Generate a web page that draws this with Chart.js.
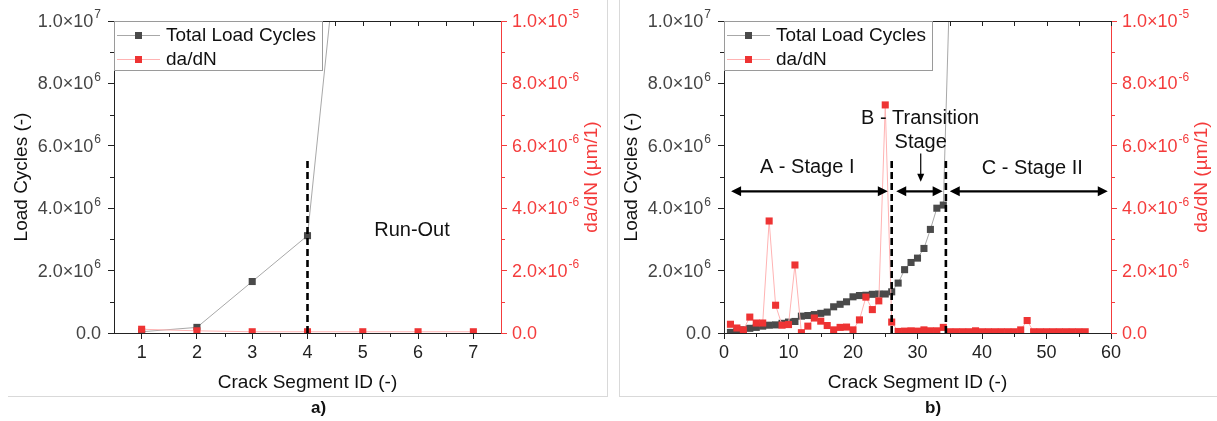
<!DOCTYPE html>
<html>
<head>
<meta charset="utf-8">
<script src="https://cdn.jsdelivr.net/npm/chart.js@4.4.1/dist/chart.umd.min.js"></script>
<style>
  body { margin: 0; background: #fff; width: 1217px; height: 421px; position: relative; overflow: hidden;
         font-family: "Liberation Sans", Arial, sans-serif; }
  .panel { position: absolute; top: 0; width: 607px; height: 400px; }
  #pa { left: 0; }
  #pb { left: 610px; }
  .vl { position: absolute; top: 0; width: 1px; height: 396px; background: #d9d9d9; }
  .hl { position: absolute; top: 396px; height: 1px; background: #d9d9d9; }
  .cap { position: absolute; top: 398px; font-weight: bold; font-size: 17px; color: #111; }
</style>
</head>
<body>
<div class="panel" id="pa"><canvas id="ca" width="607" height="400"></canvas></div>
<div class="panel" id="pb"><canvas id="cb" width="607" height="400"></canvas></div>
<div class="vl" style="left:607px"></div>
<div class="hl" style="left:8px;width:600px"></div>
<div class="vl" style="left:619px"></div>
<div class="hl" style="left:619px;width:598px"></div>
<div class="cap" style="left:311px">a)</div>
<div class="cap" style="left:925px">b)</div>

<script>
// ---- data: panel a) ----
const cyclesA = [0.04e6, 0.18e6, 1.65e6, 3.12e6, 2.03e7];
const dadnA = [0.12e-6, 0.07e-6, 0.04e-6, 0.04e-6, 0.04e-6, 0.04e-6, 0.04e-6];

// ---- data: panel b) ----
const cyclesB = [
  0.02e6, 0.06e6, 0.10e6, 0.15e6, 0.18e6, 0.22e6, 0.25e6, 0.26e6, 0.31e6, 0.35e6,
  0.37e6, 0.54e6, 0.56e6, 0.59e6, 0.63e6, 0.67e6, 0.84e6, 0.92e6, 1.00e6, 1.16e6,
  1.20e6, 1.21e6, 1.24e6, 1.25e6, 1.25e6, 1.32e6, 1.60e6, 2.03e6, 2.26e6, 2.40e6,
  2.71e6, 3.32e6, 4.00e6, 4.10e6, 1.12e7
];
const dadnB = [
  0.28, 0.16, 0.10, 0.51, 0.32, 0.32, 3.59, 0.89, 0.25, 0.27,
  2.18, 0.01, 0.22, 0.48, 0.38, 0.24, 0.10, 0.18, 0.19, 0.10,
  0.42, 1.15, 0.75, 1.03, 7.31, 0.35, 0.05, 0.06, 0.07, 0.06,
  0.10, 0.07, 0.07, 0.18, 0.04, 0.04, 0.04, 0.04, 0.07, 0.04,
  0.04, 0.04, 0.04, 0.04, 0.04, 0.10, 0.40, 0.04, 0.04, 0.04,
  0.04, 0.04, 0.04, 0.04, 0.04, 0.04
].map(v => v * 1e-6);

// ---- ticks and labels ----
const xMajorA = [1, 2, 3, 4, 5, 6, 7];
const xMinorA = [1.5, 2.5, 3.5, 4.5, 5.5, 6.5];
const xMajorB = [0, 10, 20, 30, 40, 50, 60];
const xMinorB = [5, 15, 25, 35, 45, 55];
const loadTicks = [0, 2e6, 4e6, 6e6, 8e6, 1e7];
const loadMant = ['0.0', '2.0×10', '4.0×10', '6.0×10', '8.0×10', '1.0×10'];
const loadExp = ['', '6', '6', '6', '6', '7'];
const loadMinor = [1e6, 3e6, 5e6, 7e6, 9e6];
const rateTicks = [0, 2e-6, 4e-6, 6e-6, 8e-6, 1e-5];
const rateMant = ['0.0', '2.0×10', '4.0×10', '6.0×10', '8.0×10', '1.0×10'];
const rateExp = ['', '-6', '-6', '-6', '-6', '-5'];
const rateMinor = [1e-6, 3e-6, 5e-6, 7e-6, 9e-6];

const FONT = '"Liberation Sans", Arial, sans-serif';
const RED = '#f43c3c';
const GRAY = '#4a4a4a';

function pts(vals) {
  return vals.map((v, i) => ({ x: i + 1, y: v }));
}

// "2.0×10" with raised exponent
function sciLabel(ctx, mant, exp, x, y, alignRight) {
  ctx.textBaseline = 'middle';
  ctx.textAlign = 'left';
  ctx.font = '18px ' + FONT;
  const mw = ctx.measureText(mant).width;
  ctx.font = '12px ' + FONT;
  const ew = exp ? ctx.measureText(exp).width + 1 : 0;
  const x0 = alignRight ? x - mw - ew : x;
  ctx.font = '18px ' + FONT;
  ctx.fillText(mant, x0, y + 1);
  if (exp) {
    ctx.font = '12px ' + FONT;
    ctx.fillText(exp, x0 + mw + 1, y - 6);
  }
}

// extra drawing: top frame, minor ticks, y labels, annotations, legend
const decor = {
  id: 'decor',
  afterDraw(chart, args, o) {
    const ctx = chart.ctx;
    const ca = chart.chartArea;
    const sx = chart.scales.x, sy = chart.scales.y, sr = chart.scales.y1;
    ctx.save();
    // top frame with inward ticks
    ctx.strokeStyle = '#222';
    ctx.lineWidth = 1;
    ctx.beginPath();
    ctx.moveTo(ca.left, ca.top + 0.5);
    ctx.lineTo(ca.right, ca.top + 0.5);
    o.xMajor.concat(o.xMinor).forEach(v => {
      const px = Math.round(sx.getPixelForValue(v)) + 0.5;
      ctx.moveTo(px, ca.top);
      ctx.lineTo(px, ca.top + 5);
    });
    // minor ticks outside
    o.xMinor.forEach(v => {
      const px = Math.round(sx.getPixelForValue(v)) + 0.5;
      ctx.moveTo(px, ca.bottom);
      ctx.lineTo(px, ca.bottom + 4);
    });
    loadMinor.forEach(v => {
      const py = Math.round(sy.getPixelForValue(v)) + 0.5;
      ctx.moveTo(ca.left, py);
      ctx.lineTo(ca.left - 4, py);
    });
    ctx.stroke();
    ctx.strokeStyle = RED;
    ctx.beginPath();
    rateMinor.forEach(v => {
      const py = Math.round(sr.getPixelForValue(v)) + 0.5;
      ctx.moveTo(ca.right, py);
      ctx.lineTo(ca.right + 4, py);
    });
    ctx.stroke();

    // y tick labels
    ctx.fillStyle = '#444';
    loadTicks.forEach((v, i) => sciLabel(ctx, loadMant[i], loadExp[i], ca.left - 13, sy.getPixelForValue(v), true));
    ctx.fillStyle = RED;
    rateTicks.forEach((v, i) => sciLabel(ctx, rateMant[i], rateExp[i], ca.right + 11, sr.getPixelForValue(v), false));

    // right axis title, reading upward
    ctx.save();
    ctx.translate(ca.right + 91, (ca.top + ca.bottom) / 2);
    ctx.rotate(-Math.PI / 2);
    ctx.font = '19px ' + FONT;
    ctx.textAlign = 'center';
    ctx.textBaseline = 'middle';
    ctx.fillStyle = RED;
    ctx.fillText('da/dN (µm/1)', 0, 0);
    ctx.restore();

    // dashed separators
    ctx.strokeStyle = '#000';
    ctx.lineWidth = 2.6;
    ctx.setLineDash([7, 4]);
    o.dashes.forEach(d => {
      const px = sx.getPixelForValue(d.x);
      ctx.beginPath();
      ctx.moveTo(px, sy.getPixelForValue(0));
      ctx.lineTo(px, sy.getPixelForValue(d.top));
      ctx.stroke();
    });
    ctx.setLineDash([]);

    // double arrows
    ctx.fillStyle = '#000';
    o.arrows.forEach(a => {
      const x1 = sx.getPixelForValue(a.from), x2 = sx.getPixelForValue(a.to);
      const py = sy.getPixelForValue(a.y);
      ctx.lineWidth = 2.4;
      ctx.beginPath();
      ctx.moveTo(x1 + 6, py);
      ctx.lineTo(x2 - 6, py);
      ctx.stroke();
      ctx.beginPath();
      ctx.moveTo(x1, py); ctx.lineTo(x1 + 10, py - 5); ctx.lineTo(x1 + 10, py + 5); ctx.closePath();
      ctx.moveTo(x2, py); ctx.lineTo(x2 - 10, py - 5); ctx.lineTo(x2 - 10, py + 5); ctx.closePath();
      ctx.fill();
    });
    // small pointer arrows
    (o.pointers || []).forEach(p => {
      const px = sx.getPixelForValue(p.x);
      const y1 = sy.getPixelForValue(p.from), y2 = sy.getPixelForValue(p.to);
      ctx.lineWidth = 1.2;
      ctx.beginPath();
      ctx.moveTo(px, y1);
      ctx.lineTo(px, y2 - 5);
      ctx.stroke();
      ctx.beginPath();
      ctx.moveTo(px, y2); ctx.lineTo(px - 3.5, y2 - 8); ctx.lineTo(px + 3.5, y2 - 8); ctx.closePath();
      ctx.fill();
    });

    // text notes
    ctx.font = '20px ' + FONT;
    ctx.fillStyle = '#111';
    ctx.textAlign = 'center';
    ctx.textBaseline = 'middle';
    o.notes.forEach(n => {
      ctx.fillText(n.text, sx.getPixelForValue(n.x), sy.getPixelForValue(n.y));
    });

    // legend box
    const lx = ca.left + 0.5, ly = ca.top + 0.5;
    ctx.fillStyle = '#fff';
    ctx.fillRect(lx, ly, 208, 49);
    ctx.strokeStyle = '#9a9a9a';
    ctx.lineWidth = 1;
    ctx.strokeRect(lx, ly, 208, 49);
    ctx.textAlign = 'left';
    ctx.font = '19px ' + FONT;
    chart.data.datasets.forEach((ds, i) => {
      const ry = ca.top + 14 + i * 24;
      ctx.strokeStyle = ds.borderColor;
      ctx.lineWidth = 1;
      ctx.beginPath();
      ctx.moveTo(ca.left + 3, ry + 0.5);
      ctx.lineTo(ca.left + 46, ry + 0.5);
      ctx.stroke();
      ctx.fillStyle = ds.pointBackgroundColor;
      ctx.fillRect(ca.left + 21, ry - 3, 7, 7);
      ctx.fillStyle = '#111';
      ctx.fillText(ds.label, ca.left + 52, ry + 1);
    });
    ctx.restore();
  }
};

function makeChart(id, cfg) {
  const tickFont = { family: FONT, size: 18 };
  const titleFont = { family: FONT, size: 19 };
  return new Chart(document.getElementById(id), {
    type: 'line',
    data: {
      datasets: [
        {
          label: 'Total Load Cycles', data: cfg.cycles, yAxisID: 'y', order: 1,
          borderColor: '#a8a8a8', borderWidth: 1, pointBackgroundColor: GRAY, pointBorderWidth: 0,
          pointStyle: 'rect', pointRadius: 5
        },
        {
          label: 'da/dN', data: cfg.dadn, yAxisID: 'y1', order: 0,
          borderColor: '#ffb3b3', borderWidth: 1, pointBackgroundColor: '#ee3333', pointBorderWidth: 0,
          pointStyle: 'rect', pointRadius: 5
        }
      ]
    },
    options: {
      responsive: false,
      animation: false,
      events: [],
      layout: { padding: { top: 21, left: 0, right: 0, bottom: 0 } },
      plugins: {
        legend: { display: false },
        tooltip: { enabled: false },
        decor: cfg.decor
      },
      scales: {
        x: {
          type: 'linear', min: cfg.xMin, max: cfg.xMax,
          afterBuildTicks: s => { s.ticks = cfg.xMajor.map(v => ({ value: v })); },
          afterFit: s => { s.height = 67; },
          ticks: { font: tickFont, color: '#222', padding: 3, maxRotation: 0, autoSkip: false,
                   callback: v => String(v) },
          grid: { drawOnChartArea: false, tickLength: 6, tickColor: '#222' },
          border: { color: '#222', width: 1 },
          title: { display: true, text: 'Crack Segment ID (-)', font: titleFont, color: '#111',
                   padding: { top: 0, bottom: 6 } }
        },
        y: {
          position: 'left', min: 0, max: 1e7,
          afterBuildTicks: s => { s.ticks = loadTicks.map(v => ({ value: v })); },
          afterFit: s => { s.width = 114; },
          ticks: { display: false },
          grid: { drawOnChartArea: false, tickLength: 6, tickColor: '#222' },
          border: { color: '#222', width: 1 },
          title: { display: true, text: 'Load Cycles (-)', font: titleFont, color: '#111',
                   padding: { top: 10, bottom: 0 } }
        },
        y1: {
          position: 'right', min: 0, max: 1e-5,
          afterBuildTicks: s => { s.ticks = rateTicks.map(v => ({ value: v })); },
          afterFit: s => { s.width = 106; },
          ticks: { display: false },
          grid: { drawOnChartArea: false, tickLength: 6, tickColor: RED },
          border: { color: RED, width: 1 }
        }
      }
    },
    plugins: [decor]
  });
}

makeChart('ca', {
  cycles: pts(cyclesA), dadn: pts(dadnA),
  xMin: 0.5, xMax: 7.5, xMajor: xMajorA,
  decor: {
    xMajor: xMajorA, xMinor: xMinorA,
    dashes: [{ x: 4, top: 5.6e6 }],
    arrows: [],
    notes: [{ text: 'Run-Out', x: 5.89, y: 3.3e6 }]
  }
});

makeChart('cb', {
  cycles: pts(cyclesB), dadn: pts(dadnB),
  xMin: 0, xMax: 60, xMajor: xMajorB,
  decor: {
    xMajor: xMajorB, xMinor: xMinorB,
    dashes: [{ x: 26, top: 5.56e6 }, { x: 34.4, top: 5.56e6 }],
    arrows: [
      { from: 1.1, to: 25.4, y: 4.54e6 },
      { from: 26.7, to: 33.9, y: 4.54e6 },
      { from: 35.0, to: 59.5, y: 4.54e6 }
    ],
    pointers: [{ x: 30.5, from: 5.75e6, to: 4.85e6 }],
    notes: [
      { text: 'A - Stage I', x: 12.9, y: 5.3e6 },
      { text: 'B - Transition', x: 30.4, y: 6.88e6 },
      { text: 'Stage', x: 30.5, y: 6.1e6 },
      { text: 'C - Stage II', x: 47.8, y: 5.27e6 }
    ]
  }
});
</script>
</body>
</html>
